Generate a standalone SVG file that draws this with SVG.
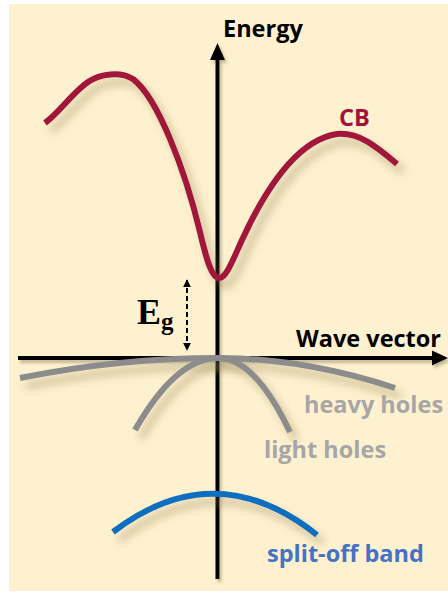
<svg xmlns="http://www.w3.org/2000/svg" width="448" height="594" viewBox="0 0 448 594">
<defs>
<filter id="sh" x="-20%" y="-20%" width="150%" height="160%">
<feGaussianBlur in="SourceAlpha" stdDeviation="4"/>
<feOffset dx="6" dy="8" result="b"/>
<feFlood flood-color="#8a7a4a" flood-opacity="0.45"/>
<feComposite in2="b" operator="in"/>
<feMerge><feMergeNode/><feMergeNode in="SourceGraphic"/></feMerge>
</filter>
<filter id="ash" x="-20%" y="-20%" width="150%" height="160%">
<feGaussianBlur in="SourceAlpha" stdDeviation="1.5"/>
<feOffset dx="2" dy="3" result="b"/>
<feFlood flood-color="#6b5f3a" flood-opacity="0.4"/>
<feComposite in2="b" operator="in"/>
<feMerge><feMergeNode/><feMergeNode in="SourceGraphic"/></feMerge>
</filter>
<marker id="ah" viewBox="0 0 10 10" refX="9" refY="5" markerWidth="8" markerHeight="8" orient="auto-start-reverse" markerUnits="userSpaceOnUse">
<path d="M0,0 L10,5 L0,10 z" fill="#000"/>
</marker>
</defs>
<style>
.lbl{font-family:"Open Sans","Liberation Sans",sans-serif;font-weight:700;font-size:23.5px}
.band{fill:none;stroke-width:6;stroke-linecap:butt}
</style>
<rect x="9" y="4" width="439" height="587" fill="#FEF1CF"/>

<g id="connectors">
<g filter="url(#ash)">
<line x1="18" y1="358" x2="434" y2="358" stroke="#000" stroke-width="4"/>
<path d="M448,358 L432,350.5 L432,365.5 z" fill="#000"/>
<line x1="217.5" y1="58" x2="217.5" y2="579" stroke="#000" stroke-width="4"/>
<path d="M217.5,43 L210,60 L225,60 z" fill="#000"/>
</g>
<line x1="187" y1="280" x2="187" y2="350" stroke="#000" stroke-width="2" stroke-dasharray="5,3" marker-start="url(#ah)" marker-end="url(#ah)"/>
</g>

<g id="cb" filter="url(#sh)">
<path class="band" stroke="#A3123A" d="M45,123 C60,112 72,93 88,82 C100,74 120,71 133,79 C158,98 185,170 200,232 C207,262 212,278 219,278 C226,278 232,262 242,240 C265,190 297,140 337,134 C360,132 378,148 397,164"/>
</g>
<g id="heavy" filter="url(#sh)">
<path class="band" stroke="#8C8C8C" d="M20,378 C90,364 160,358 218,358 C280,358 340,370 395,388"/>
</g>
<g id="light" filter="url(#sh)">
<path class="band" stroke="#8C8C8C" d="M135,430 Q176,358 218,358 Q255,358 290,432"/>
</g>
<g id="splitoff" filter="url(#sh)">
<path class="band" stroke="#0F6FBE" d="M113,532 Q215,454 317,535"/>
</g>

<g id="labels">
<text class="lbl" x="223" y="37" fill="#000">Energy</text>
<text class="lbl" x="296" y="347" fill="#000">Wave vector</text>
<text class="lbl" x="339" y="126" fill="#A3123A">CB</text>
<text class="lbl" x="304" y="413" fill="#A6A6A6">heavy holes</text>
<text class="lbl" x="264" y="458" fill="#A6A6A6">light holes</text>
<text class="lbl" x="267" y="562" fill="#4472C4">split-off band</text>
<text x="137" y="324" font-family="Liberation Serif,serif" font-weight="700" font-size="36" fill="#000">E<tspan font-size="25" dy="6">g</tspan></text>
</g>
</svg>
